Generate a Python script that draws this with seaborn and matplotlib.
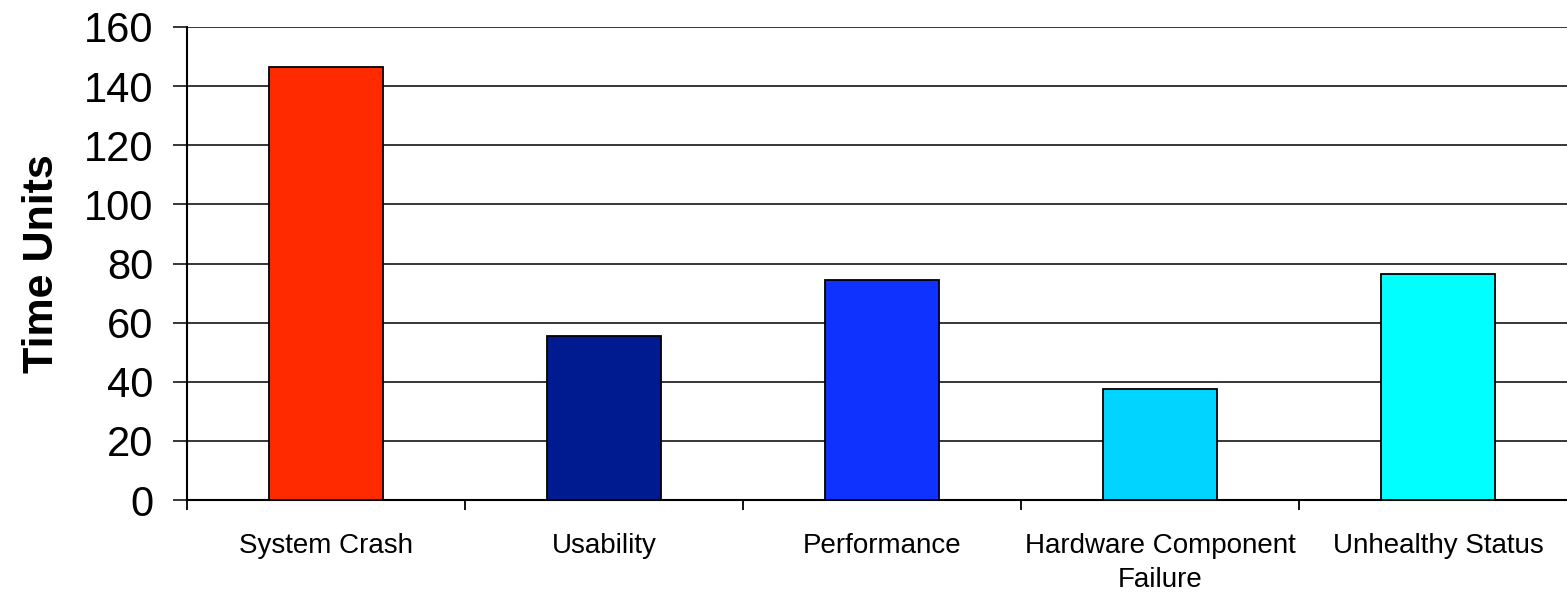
import numpy as np
import pandas as pd
import matplotlib
matplotlib.use('Agg')
import matplotlib.pyplot as plt
import seaborn as sns

categories = ['System Crash', 'Usability', 'Performance', 'Hardware Component\nFailure', 'Unhealthy Status']
time_units = [146.5, 55.5, 74.5, 37.5, 76.5]
bar_colors = ['#FF2A00', '#001A8F', '#0F32FF', '#00D4FF', '#00FFFF']
y_ticks = [0, 20, 40, 60, 80, 100, 120, 140, 160]

df = pd.DataFrame({'category': categories, 'time': time_units})

sns.set_style('white')
plt.rcParams['font.family'] = ['Liberation Sans', 'DejaVu Sans']
plt.rcParams['text.color'] = 'black'
plt.rcParams['xtick.color'] = 'black'
plt.rcParams['ytick.color'] = 'black'
plt.rcParams['axes.labelcolor'] = 'black'

fig = plt.figure(figsize=(15.67, 5.92), dpi=100)
ax = fig.add_axes([187 / 1567, 1 - 500 / 592, 1390 / 1567, 473 / 592])

sns.barplot(data=df, x='category', y='time', hue='category', palette=bar_colors,
            saturation=1, legend=False, width=0.41, edgecolor='black', linewidth=1.3,
            ax=ax, zorder=3)

ax.set_ylim(0, 160)
ax.set_xlim(-0.5, 4.5)
ax.set_yticks(y_ticks)
ax.set_yticklabels([str(t) for t in y_ticks], fontsize=30)
ax.yaxis.grid(True, color='black', linewidth=1.1, zorder=0)
ax.set_axisbelow(True)

# category separators as ticks
ax.set_xticks(np.arange(-0.5, 4.6, 1.0), minor=True)
ax.tick_params(axis='x', which='minor', length=7, width=1.3, color='black', direction='out', bottom=True)
ax.tick_params(axis='x', which='major', length=0, pad=24, labelsize=20)
ax.tick_params(axis='y', which='major', length=10, width=1.1, color='black', direction='out', left=True, pad=14)
for lbl in ax.get_xticklabels():
    lbl.set_linespacing(1.4)

for s in ['top', 'right']:
    ax.spines[s].set_visible(False)
for s in ['left', 'bottom']:
    ax.spines[s].set_color('black')
    ax.spines[s].set_linewidth(1.5)

ax.set_xlabel('')
ax.set_ylabel('Time Units', fontsize=31, fontweight='bold', labelpad=16)

fig.savefig('out.png', dpi=100)
